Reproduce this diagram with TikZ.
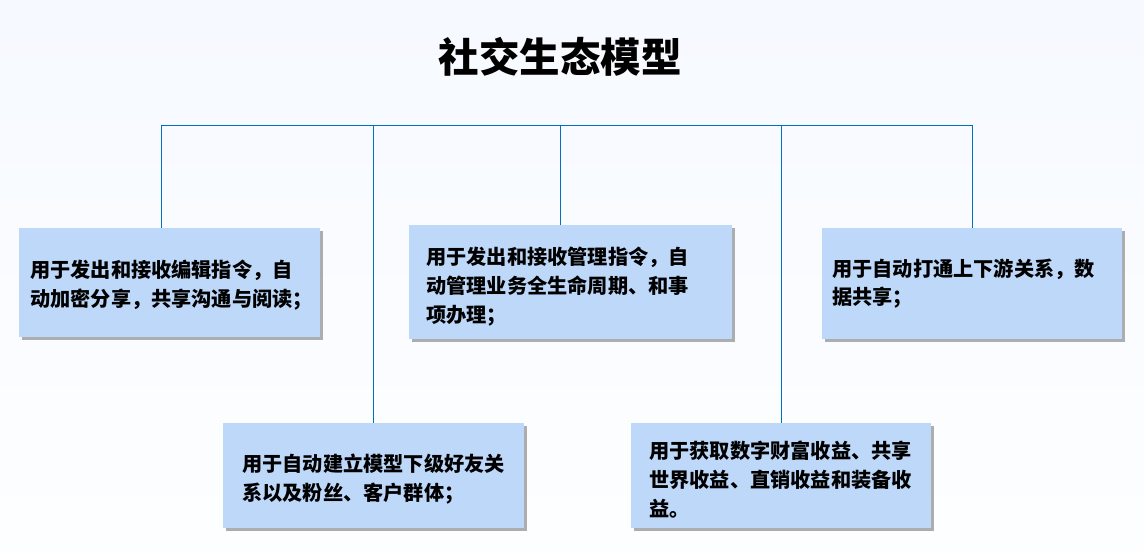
\documentclass[tikz,border=0pt]{standalone}
\usepackage{fontspec}
\setmainfont{Noto Sans CJK SC}
\usetikzlibrary{shadows}
\definecolor{bgtop}{RGB}{246,249,255}
\definecolor{bgbot}{RGB}{253,254,255}
\definecolor{boxfill}{RGB}{190,216,250}
\definecolor{linkblue}{RGB}{0,112,192}
\begin{document}
\begin{tikzpicture}[x=1pt,y=-1pt,
  infobox/.style={draw=none, fill=boxfill, anchor=north west, inner xsep=0pt, inner ysep=0pt,
    align=left, font=\fontsize{20.2}{28.8}\selectfont\bfseries,
    drop shadow={shadow xshift=3pt, shadow yshift=-3pt, fill=black!45, opacity=0.7}},
  link/.style={draw=linkblue, line width=1pt},
  titlefont/.style={font=\fontsize{40.5}{44}\selectfont\bfseries}]
\useasboundingbox (0,0) rectangle (1144,551);
\shade[top color=bgtop, bottom color=bgbot] (0,0) rectangle (1144,551);

\node[titlefont] (title) at (560,57) {社交生态模型};

\coordinate (t1) at (161,125);
\coordinate (t2) at (373,125);
\coordinate (t3) at (560,125);
\coordinate (t4) at (781,125);
\coordinate (t5) at (972,125);

\node[infobox, minimum width=301pt, minimum height=109pt, text width=279pt] (b1) at (19,228)
  {\rule{0pt}{22pt}用于发出和接收编辑指令，自\\动加密分享，共享沟通与阅读；};
\node[infobox, minimum width=323pt, minimum height=114pt, text width=289pt] (b3) at (409,225)
  {\rule{0pt}{26pt}用于发出和接收管理指令，自\\动管理业务全生命周期、和事\\项办理；};
\node[infobox, minimum width=300pt, minimum height=111pt, text width=280pt] (b5) at (822,228)
  {用于自动打通上下游关系，数\\据共享；};
\node[infobox, minimum width=301pt, minimum height=105pt, text width=263pt] (b2) at (223,423)
  {\rule{0pt}{25pt}用于自动建立模型下级好友关\\系以及粉丝、客户群体；};
\node[infobox, minimum width=300pt, minimum height=105pt, text width=264pt] (b4) at (631,423)
  {\rule{0pt}{25pt}用于获取数字财富收益、共享\\世界收益、直销收益和装备收\\益。};

\draw[link] (t1) -- (t5);
\draw[link] (t1) -- (t1 |- b1.north);
\draw[link] (t2) -- (t2 |- b2.north);
\draw[link] (t3) -- (t3 |- b3.north);
\draw[link] (t4) -- (t4 |- b4.north);
\draw[link] (t5) -- (t5 |- b5.north);
\end{tikzpicture}
\end{document}
